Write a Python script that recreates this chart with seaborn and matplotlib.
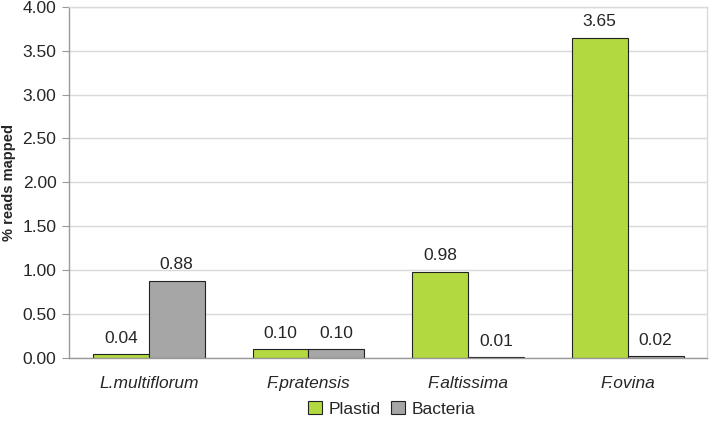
import matplotlib.pyplot as plt
import seaborn as sns
import pandas as pd
import numpy as np

# values
species = ['L.multiflorum', 'F.pratensis', 'F.altissima', 'F.ovina']
plastid = [0.04, 0.10, 0.98, 3.65]
bacteria = [0.88, 0.10, 0.01, 0.02]
series = ['Plastid', 'Bacteria']
colors = ['#b3d941', '#a6a6a6']

df = pd.DataFrame({
    'species': species * 2,
    'source': [series[0]] * 4 + [series[1]] * 4,
    'value': plastid + bacteria,
})

sns.set_style('white')
plt.rcParams['font.family'] = ['Liberation Sans', 'DejaVu Sans']

fig = plt.figure(figsize=(7.11, 4.28), dpi=100)
ax = fig.add_axes([0.097, 0.164, 0.898, 0.82])

sns.barplot(data=df, x='species', y='value', hue='source', order=species,
            hue_order=series, palette=colors, width=0.7, saturation=1,
            edgecolor='#222222', linewidth=0.8, ax=ax)

# value labels above each bar
for cont in ax.containers:
    ax.bar_label(cont, fmt='%.2f', padding=6, fontsize=12.5)

ax.set_ylim(0, 4.0)
ax.set_yticks(np.arange(0, 4.01, 0.5))
ax.set_yticklabels([f'{v:.2f}' for v in np.arange(0, 4.01, 0.5)], fontsize=12.5)
ax.yaxis.grid(True, color='#d9d9d9', linewidth=1)
ax.set_axisbelow(True)
ax.set_xlim(-0.5, 3.5)

# category labels in italics, tick marks between categories
ax.set_xticks(range(len(species)))
ax.set_xticklabels(species, fontsize=12.5, style='italic')
ax.tick_params(axis='x', length=0, pad=13)
ax.set_xticks(np.arange(-0.5, 4, 1), minor=True)
ax.tick_params(axis='x', which='minor', length=5, color='#999999', direction='out')
ax.tick_params(axis='y', length=5, color='#999999', direction='out', left=True, pad=4)

for s in ax.spines.values():
    s.set_color('#999999')
    s.set_linewidth(1)
ax.spines['top'].set_color('#d9d9d9')
ax.spines['right'].set_color('#d9d9d9')

ax.set_xlabel('')
ax.set_ylabel('% reads mapped', fontsize=10.5, fontweight='bold')
ax.yaxis.set_label_coords(-0.083, 0.5)

handles, labels = ax.get_legend_handles_labels()
ax.get_legend().remove()
fig.legend(handles, labels, loc='center', bbox_to_anchor=(0.551, 19 / 428), ncol=2,
           frameon=False, fontsize=12.5, handlelength=0.8, handleheight=0.8,
           handletextpad=0.4, columnspacing=0.6)

plt.savefig('out.png', dpi=100)
